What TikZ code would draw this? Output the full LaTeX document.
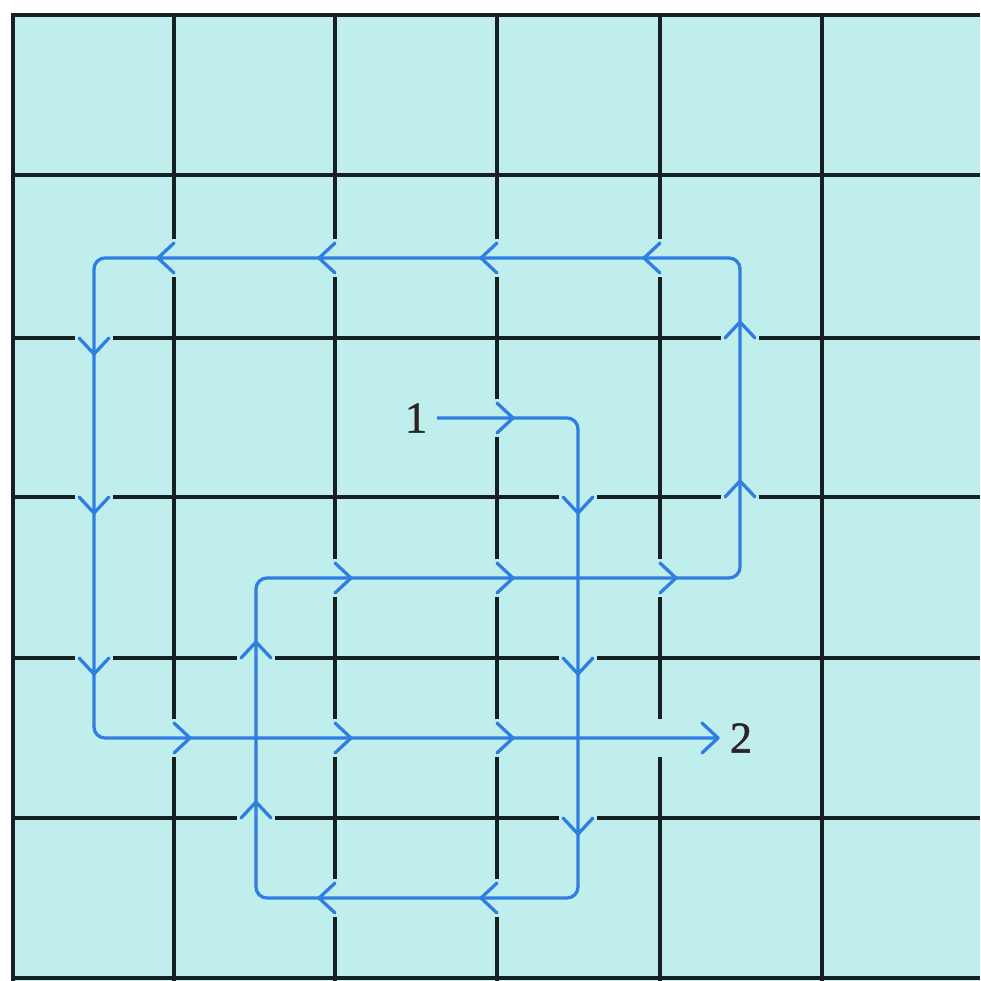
\documentclass[tikz,border=0pt]{standalone}
\usepackage{fontspec}
\setmainfont{Liberation Serif}
\newfontfamily\digitfont{Liberation Serif}[FakeBold=1.2]
\definecolor{paper}{RGB}{192,238,237}
\definecolor{pathblue}{RGB}{48,126,226}
\definecolor{gridline}{RGB}{22,32,34}
\definecolor{digit}{RGB}{45,35,35}
\tikzset{
  gridstyle/.style={draw=gridline, line width=3.2pt},
  bluepath/.style={draw=pathblue, line width=3.3pt, rounded corners=11pt},
  gapstyle/.style={draw=paper, line width=38pt},
  chevstyle/.style={draw=pathblue, line width=3.3pt, line join=round, line cap=round},
  numlabel/.style={text=digit, font=\digitfont\fontsize{44}{48}\selectfont, inner sep=0pt},
}
\newcommand\chev[4]{\draw[chevstyle] ({#1-16*#3-15*#4},{#2-16*#4-15*#3}) -- (#1,#2) -- ({#1-16*#3+15*#4},{#2-16*#4+15*#3});}
\begin{document}
\begin{tikzpicture}[x=1pt,y=-1pt]
\useasboundingbox (0,0) rectangle (980,981);
\fill[white] (0,0) rectangle (980,981);
\fill[paper] (13,15) rectangle (980,981);
\foreach \x in {13,174,335,497,660,822} \draw[gridstyle] (\x,13.4) -- (\x,981);
\foreach \y in {15,175,338,497,658,818,978} \draw[gridstyle] (11.4,\y) -- (980,\y);
% path corners
\coordinate (s) at (437,418);
\coordinate (c1) at (578,418);
\coordinate (c2) at (578,898);
\coordinate (c3) at (256,898);
\coordinate (c4) at (256,578);
\coordinate (c5) at (740,578);
\coordinate (c6) at (740,258);
\coordinate (c7) at (94,258);
\coordinate (c8) at (94,738);
\coordinate (e) at (718,738);
% gaps in the grid lines
\path[gapstyle] (s) -- (c1) -- (c2) -- (c3) -- (c4) -- (c5) -- (c6) -- (c7) -- (c8) -- (e);
% the blue route
\draw[bluepath] (s) -- (c1) -- (c2) -- (c3) -- (c4) -- (c5) -- (c6) -- (c7) -- (c8) -- (e);
% chevrons
\chev{513}{418}{1}{0}
\chev{578}{513}{0}{1}
\chev{578}{674}{0}{1}
\chev{578}{834}{0}{1}
\chev{481}{898}{-1}{0}
\chev{319}{898}{-1}{0}
\chev{256}{802}{0}{-1}
\chev{256}{642}{0}{-1}
\chev{351}{578}{1}{0}
\chev{513}{578}{1}{0}
\chev{676}{578}{1}{0}
\chev{740}{481}{0}{-1}
\chev{740}{322}{0}{-1}
\chev{644}{258}{-1}{0}
\chev{481}{258}{-1}{0}
\chev{319}{258}{-1}{0}
\chev{158}{258}{-1}{0}
\chev{94}{354}{0}{1}
\chev{94}{513}{0}{1}
\chev{94}{674}{0}{1}
\chev{190}{738}{1}{0}
\chev{351}{738}{1}{0}
\chev{513}{738}{1}{0}
\chev{718}{738}{1}{0}
% labels
\node[numlabel] (one) at (416,418) {1};
\node[numlabel] (two) at (741,738) {2};
\end{tikzpicture}
\end{document}
